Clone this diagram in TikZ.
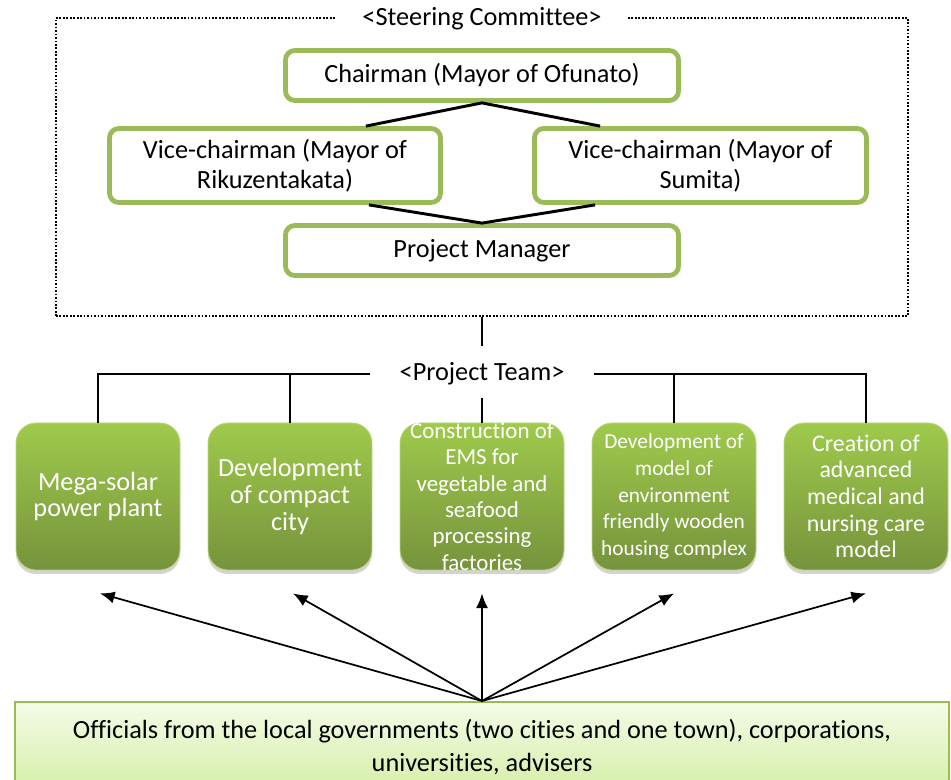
\documentclass[tikz,border=0pt]{standalone}
\usepackage{fontspec}
\setmainfont{Carlito}[Ligatures=NoCommon]
\usetikzlibrary{shadows,calc,arrows.meta}
\definecolor{gborder}{HTML}{9BBB59}
\definecolor{gtop}{HTML}{9FCA4C}
\definecolor{gbot}{HTML}{76933C}
\definecolor{ltop}{HTML}{F4FBE8}
\definecolor{lbot}{HTML}{D5EFA6}
\begin{document}
\begin{tikzpicture}[x=0.75pt,y=-0.75pt,
  mainfont/.style={font=\fontsize{19.7}{22.5}\selectfont},
  topbox/.style={draw=gborder, line width=3.6pt, rounded corners=7pt, fill=white, align=center, mainfont, inner sep=0pt},
  greenbox/.style={rounded corners=15pt, top color=gtop, bottom color=gbot, draw=gtop!75!white, line width=0.6pt,
    minimum width={164*0.75pt}, minimum height={147*0.75pt}, text=white, align=center, inner sep=1pt,
    drop shadow={opacity=0.35, shadow xshift=0pt, shadow yshift=-3pt}},
  link/.style={line width=2.2pt},
  teamline/.style={line width=1.3pt},
  arr/.style={line width=1.3pt, -{Latex[length=11pt,width=9pt]}}
]
\path[use as bounding box, clip] (0,0) rectangle (951,780);

% steering committee frame
\node[draw, line width=1.5pt, dash pattern=on 1.3pt off 1.3pt, minimum width={852*0.75pt}, minimum height={298*0.75pt}, inner sep=0pt] (frame) at (482,167) {};
\node[fill=white, mainfont, inner xsep=19pt, inner ysep=2pt] (steer) at (482,19) {<Steering Committee>};

\node[topbox, minimum width={393*0.75pt}, minimum height={50*0.75pt}] (chair) at (482,75.5) {Chairman (Mayor of Ofunato)};
\node[topbox, minimum width={331*0.75pt}, minimum height={74*0.75pt}] (vl) at (275,165.5) {Vice-chairman (Mayor of\\Rikuzentakata)};
\node[topbox, minimum width={332*0.75pt}, minimum height={74*0.75pt}] (vr) at (700.5,165.5) {Vice-chairman (Mayor of\\Sumita)};
\node[topbox, minimum width={393*0.75pt}, minimum height={50*0.75pt}] (pm) at (482,250.5) {Project Manager};

\draw[link] ($(vl.north east)+(-77,0)$) -- (chair.south) -- ($(vr.north west)+(68,0)$);
\draw[link] ($(vl.south east)+(-74,0)$) -- (pm.north) -- ($(vr.south west)+(63,0)$);

\coordinate (st) at ($(frame.south)+(0,29)$);
\draw[teamline] (frame.south) -- (st);

% project team
\node[greenbox, font=\fontsize{19.7}{20.2}\selectfont] (g1) at (98,496.5) {Mega-solar\\power plant};
\node[greenbox, font=\fontsize{19.7}{20.2}\selectfont] (g2) at (290,496.5) {Development\\of compact\\city};
\node[greenbox] (g3) at (482,496.5) {};
\node[text=white, align=center, inner sep=0pt, font=\fontsize{17.2}{19.8}\selectfont] (g3t) at (g3.center) {Construction of\\EMS for\\vegetable and\\seafood\\processing\\factories};
\node[greenbox, font=\fontsize{16}{20}\selectfont] (g4) at (674,496.5) {Development of\\model of\\environment\\friendly wooden\\housing complex};
\node[greenbox, font=\fontsize{17.9}{20}\selectfont] (g5) at (866,496.5) {Creation of\\advanced\\medical and\\nursing care\\model};

\node[mainfont, inner xsep=22pt, inner ysep=1pt] (team) at (482,374) {<Project Team>};
\draw[teamline] (team.west) -| (g1.north);
\draw[teamline] (team.west -| g2.north) -- (g2.north);
\draw[teamline] (team.east) -| (g5.north);
\draw[teamline] (team.east -| g4.north) -- (g4.north);
\coordinate (c3) at ($(g3.north)+(0,-25)$);
\draw[teamline] (c3) -- (g3.north);

% bottom box
\node[draw=gborder, line width=1.2pt, top color=ltop, bottom color=lbot, minimum width={934*0.75pt}, minimum height={90*0.75pt},
  anchor=north, align=center, font=\fontsize{19.7}{24.75}\selectfont] (bot) at (482,701)
  {Officials from the local governments (two cities and one town), corporations,\\universities, advisers};

\coordinate (t1) at ($(g1.south)+(2,23)$);
\coordinate (t2) at ($(g2.south)+(3,23)$);
\coordinate (t3) at ($(g3.south)+(0,23)$);
\coordinate (t4) at ($(g4.south)+(0,23)$);
\coordinate (t5) at ($(g5.south)+(0,23)$);
\foreach \t in {t1,t2,t3,t4,t5} \draw[arr] (bot.north) -- (\t);
\end{tikzpicture}
\end{document}
